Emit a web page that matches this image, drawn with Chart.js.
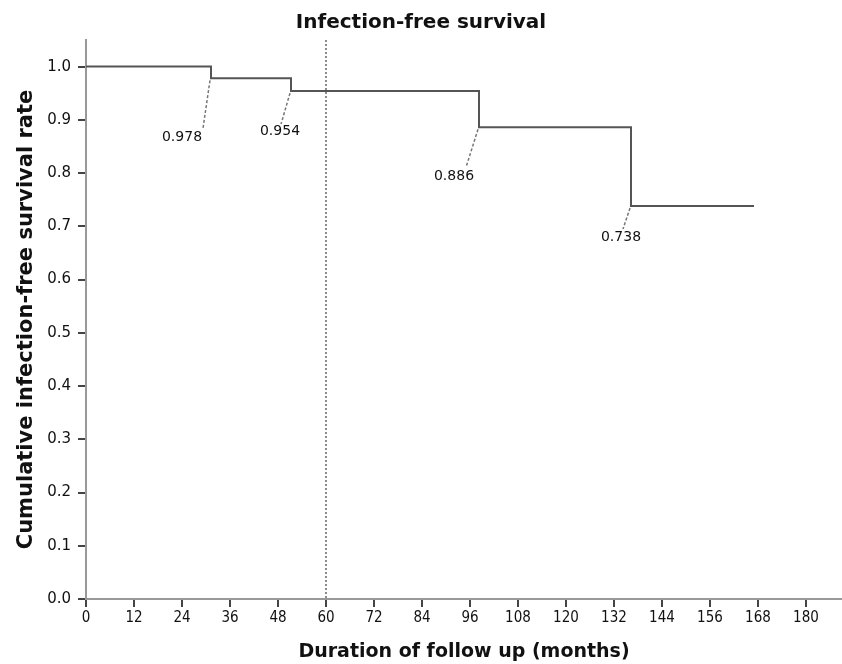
<!DOCTYPE html>
<html>
<head>
<meta charset="utf-8">
<title>Infection-free survival</title>
<script src="https://cdn.jsdelivr.net/npm/chart.js@4/dist/chart.umd.min.js"></script>
<style>
  html, body { margin: 0; padding: 0; background: #fff; }
  #wrap { width: 842px; height: 664px; }
</style>
</head>
<body>
<div id="wrap"><canvas id="survivalChart" width="842" height="664"></canvas></div>
<script>
// Kaplan-Meier steps
const months = [0, 31.25, 51.25, 98.25, 136.25, 167];
const survival = [1.0, 0.978, 0.954, 0.886, 0.738, 0.738];
const eventLabels = ["0.978", "0.954", "0.886", "0.738"];
const xTicks = [0, 12, 24, 36, 48, 60, 72, 84, 96, 108, 120, 132, 144, 156, 168, 180];
const yTicks = [0.0, 0.1, 0.2, 0.3, 0.4, 0.5, 0.6, 0.7, 0.8, 0.9, 1.0];
const cutoffMonth = 60;

document.addEventListener("DOMContentLoaded", function () {
  const ctx = document.getElementById("survivalChart").getContext("2d");

  // label placement for each drop: [labelDx, labelDy, leaderDx, leaderDy] in px
  const labelOffsets = [
    [-29, 59, -8, 50],
    [-11, 40, -10, 33],
    [-25, 49, -13, 40],
    [-10, 31, -8, 23]
  ];

  const annotations = {
    id: "annotations",
    beforeDatasetsDraw(chart) {
      const { ctx, chartArea, scales: { x } } = chart;
      const px = x.getPixelForValue(cutoffMonth);
      ctx.save();
      ctx.strokeStyle = "#666";
      ctx.lineWidth = 1.5;
      ctx.setLineDash([2, 2]);
      ctx.beginPath();
      ctx.moveTo(px, chartArea.top);
      ctx.lineTo(px, chartArea.bottom);
      ctx.stroke();
      ctx.restore();
    },
    afterDatasetsDraw(chart) {
      const { ctx, scales: { x, y } } = chart;
      ctx.save();
      ctx.font = "14px 'DejaVu Sans'";
      ctx.fillStyle = "#111";
      ctx.textAlign = "center";
      ctx.textBaseline = "middle";
      eventLabels.forEach(function (label, i) {
        const px = x.getPixelForValue(months[i + 1]);
        const py = y.getPixelForValue(survival[i + 1]);
        const off = labelOffsets[i];
        ctx.strokeStyle = "#777";
        ctx.lineWidth = 1.5;
        ctx.setLineDash([3, 2]);
        ctx.beginPath();
        ctx.moveTo(px - 1, py + 2);
        ctx.lineTo(px + off[2], py + off[3]);
        ctx.stroke();
        ctx.fillText(label, px + off[0], py + off[1]);
      });
      ctx.restore();
    }
  };

  new Chart(ctx, {
    type: "line",
    data: {
      datasets: [{
        data: months.map((m, i) => ({ x: m, y: survival[i] })),
        stepped: "before",
        borderColor: "#555",
        borderWidth: 2,
        pointRadius: 0,
        fill: false
      }]
    },
    options: {
      responsive: false,
      animation: false,
      layout: { padding: 0 },
      plugins: {
        legend: { display: false },
        tooltip: { enabled: false },
        title: {
          display: true,
          text: "Infection-free survival",
          color: "#111",
          font: { family: "'DejaVu Sans'", size: 20, weight: "bold", lineHeight: 1.2 },
          padding: { top: 11, bottom: 5 }
        }
      },
      scales: {
        x: {
          type: "linear",
          min: 0,
          max: 189,
          afterBuildTicks: function (scale) {
            scale.ticks = xTicks.map(v => ({ value: v }));
          },
          afterFit: function (scale) {
            scale.height = 65;
          },
          border: { color: "#999", width: 2 },
          grid: { drawOnChartArea: false, color: "#444", lineWidth: 2, tickLength: 8 },
          ticks: {
            color: "#111",
            padding: 2,
            maxRotation: 0,
            autoSkip: false,
            font: { family: "'DejaVu Sans Condensed'", size: 15 }
          },
          title: {
            display: true,
            text: "Duration of follow up (months)",
            color: "#111",
            font: { family: "'DejaVu Sans'", size: 19, weight: "bold", lineHeight: 1.2 },
            padding: { top: 0, bottom: 1 }
          }
        },
        y: {
          type: "linear",
          min: 0,
          max: 1.05,
          afterBuildTicks: function (scale) {
            scale.ticks = yTicks.map(v => ({ value: v }));
          },
          afterFit: function (scale) {
            scale.width = 86;
          },
          border: { color: "#999", width: 2 },
          grid: { drawOnChartArea: false, color: "#444", lineWidth: 2, tickLength: 8 },
          ticks: {
            color: "#111",
            padding: 7,
            font: { family: "'DejaVu Sans'", size: 15 },
            callback: v => v.toFixed(1)
          },
          title: {
            display: true,
            text: "Cumulative infection-free survival rate",
            color: "#111",
            font: { family: "'DejaVu Sans'", size: 21, weight: "bold", lineHeight: 1.2 },
            padding: { top: 14, bottom: 0 }
          }
        }
      }
    },
    plugins: [annotations]
  });
});
</script>
</body>
</html>
